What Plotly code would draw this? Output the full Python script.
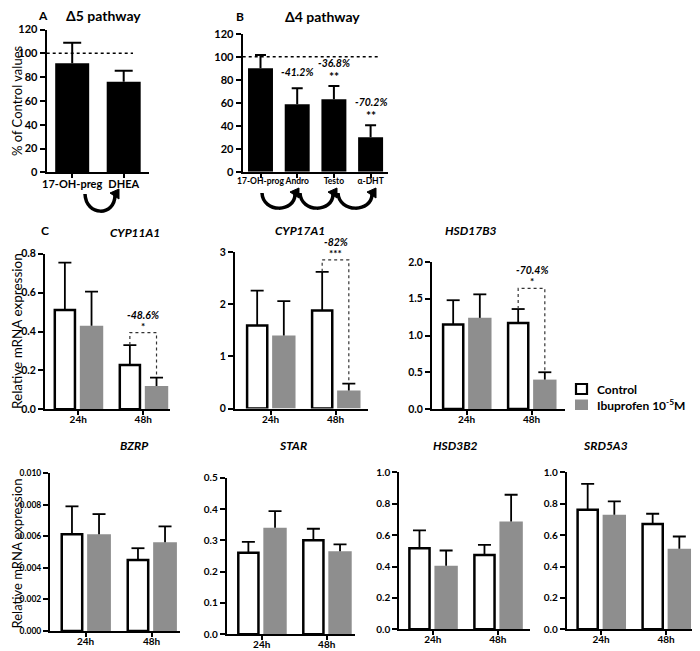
import plotly.graph_objects as go

FONT = "Lato"
# the page has an 8px body margin; the figure is sized so it fits the 700x651 window
OX, OY = 8, 8
W, H = 700 - OX, 651 - OY

# ---------------- data ----------------
a_cats = ["17-OH-preg", "DHEA"]
a_vals = [91.6, 76.1]
a_sem = [17.3, 9.3]

b_cats = ["17-OH-prog", "Andro", "Testo", "α-DHT"]
b_vals = [89.9, 58.6, 63.0, 29.9]
b_sem = [11.6, 13.9, 11.5, 10.4]
b_pct = ["", "-41.2%", "-36.8%", "-70.2%"]
b_sig = ["", "", "**", "**"]
ref_line = 100

timepoints = ["24h", "48h"]
series_names = ["Control", "Ibuprofen 10<sup>-5</sup>M"]

cyp11a1_ctrl = [0.51, 0.228]
cyp11a1_ctrl_sem = [0.244, 0.102]
cyp11a1_ibu = [0.43, 0.12]
cyp11a1_ibu_sem = [0.175, 0.043]
cyp11a1_sig = ("-48.6%", "*", 0.394)

cyp17a1_ctrl = [1.59, 1.88]
cyp17a1_ctrl_sem = [0.67, 0.74]
cyp17a1_ibu = [1.40, 0.346]
cyp17a1_ibu_sem = [0.66, 0.13]
cyp17a1_sig = ("-82%", "***", 2.85)

hsd17b3_ctrl = [1.15, 1.17]
hsd17b3_ctrl_sem = [0.33, 0.19]
hsd17b3_ibu = [1.24, 0.40]
hsd17b3_ibu_sem = [0.32, 0.10]
hsd17b3_sig = ("-70.4%", "*", 1.64)

bzrp_ctrl = [0.00613, 0.0045]
bzrp_ctrl_sem = [0.00176, 0.00074]
bzrp_ibu = [0.00613, 0.00562]
bzrp_ibu_sem = [0.00127, 0.001]

star_ctrl = [0.26, 0.30]
star_ctrl_sem = [0.035, 0.037]
star_ibu = [0.34, 0.265]
star_ibu_sem = [0.053, 0.022]

hsd3b2_ctrl = [0.517, 0.474]
hsd3b2_ctrl_sem = [0.113, 0.064]
hsd3b2_ibu = [0.404, 0.687]
hsd3b2_ibu_sem = [0.098, 0.17]

srd5a3_ctrl = [0.762, 0.67]
srd5a3_ctrl_sem = [0.164, 0.066]
srd5a3_ibu = [0.73, 0.513]
srd5a3_ibu_sem = [0.085, 0.078]

GREY = "#8e8e8e"


def px(x):
    return (x - OX) / W


def py(y):
    return 1 - (y - OY) / H


fig = go.Figure()
layout = {}
annotations = []
shapes = []


def refs(n):
    s = "" if n == 1 else str(n)
    return "x" + s, "y" + s, "xaxis" + s, "yaxis" + s


def setup_axes(n, axis_px, end_px, g1_px, unit, ytop, ybot, yr, dtick, fmt,
               tickvals, ticktext, xtick_size, ytick_size):
    xr_, yr_, xk, yk = refs(n)
    xrange = [1 + (axis_px - g1_px) / unit, 1 + (end_px - g1_px) / unit]
    layout[xk] = dict(domain=[px(axis_px), px(end_px)], range=xrange, anchor=yr_,
                      showline=True, linecolor="black", linewidth=2, showgrid=False,
                      zeroline=False, ticks="outside", ticklen=4, tickwidth=1.5,
                      tickcolor="black", tickvals=tickvals, ticktext=ticktext, tickangle=0,
                      ticklabelstandoff=-4,
                      tickfont=dict(family=FONT, size=xtick_size, color="black", weight="bold"),
                      fixedrange=True, automargin=False)
    layout[yk] = dict(domain=[py(ybot), py(ytop)], range=yr, anchor=xr_,
                      showline=True, linecolor="black", linewidth=2, showgrid=False,
                      zeroline=False, ticks="outside", ticklen=5, tickwidth=1.5,
                      tickcolor="black", dtick=dtick, tick0=0, tickformat=fmt,
                      tickfont=dict(family=FONT, size=ytick_size, color="black", weight="bold"),
                      fixedrange=True, automargin=False)
    return xr_, yr_, xrange, unit


def err_lines(xs, vals, sems, hw):
    X, Y = [], []
    for x, v, e in zip(xs, vals, sems):
        X += [x, x, None, x - hw, x + hw, None]
        Y += [v, v + e, None, v + e, v + e, None]
    return X, Y


# ---------------- Panel A ----------------
xa, ya, xrA, uA = setup_axes(1, 46.7, 149, 72.2, 51.5, 29.5, 172.3, [0, 120], 20, "d",
                             [1, 2], a_cats, 11, 11)
xs = [1 + i for i in range(len(a_cats))]
fig.add_trace(go.Bar(x=xs, y=a_vals, width=0.66, marker=dict(color="black", line=dict(width=0)),
                     xaxis=xa, yaxis=ya, showlegend=False, hoverinfo="skip"))
ex, ey = err_lines(xs, a_vals, a_sem, 9 / uA)
fig.add_trace(go.Scatter(x=ex, y=ey, mode="lines", line=dict(color="black", width=2),
                         xaxis=xa, yaxis=ya, showlegend=False, hoverinfo="skip"))
shapes.append(dict(type="line", xref=xa, yref=ya, x0=xrA[0], x1=1 + (133 - 72.2) / uA,
                   y0=ref_line, y1=ref_line, line=dict(color="black", width=1.5, dash="dot")))

# ---------------- Panel B ----------------
xb, yb, xrB, uB = setup_axes(2, 242.7, 388, 260.5, 36.7, 33.7, 171.7, [0, 120], 20, "d",
                             [1, 2, 3, 4], b_cats, 8.5, 11)
xs = [1 + i for i in range(len(b_cats))]
fig.add_trace(go.Bar(x=xs, y=b_vals, width=0.68, marker=dict(color="black", line=dict(width=0)),
                     xaxis=xb, yaxis=yb, showlegend=False, hoverinfo="skip"))
ex, ey = err_lines(xs, b_vals, b_sem, 5.5 / uB)
fig.add_trace(go.Scatter(x=ex, y=ey, mode="lines", line=dict(color="black", width=2),
                         xaxis=xb, yaxis=yb, showlegend=False, hoverinfo="skip"))
shapes.append(dict(type="line", xref=xb, yref=yb, x0=xrB[0], x1=1 + (380 - 260.5) / uB,
                   y0=ref_line, y1=ref_line, line=dict(color="black", width=1.5, dash="dot")))
for x, v, e, p, s in zip(xs, b_vals, b_sem, b_pct, b_sig):
    top = v + e
    if s:
        annotations.append(dict(x=x, y=top, xref=xb, yref=yb, text="<b>%s</b>" % s, showarrow=False,
                                yshift=10, font=dict(family=FONT, size=12, color="black")))
        annotations.append(dict(x=x, y=top, xref=xb, yref=yb, text="<b><i>%s</i></b>" % p,
                                showarrow=False, yshift=23,
                                font=dict(family=FONT, size=10.5, color="black")))
    elif p:
        annotations.append(dict(x=x, y=top, xref=xb, yref=yb, text="<b><i>%s</i></b>" % p,
                                showarrow=False, yshift=16,
                                font=dict(family=FONT, size=10.5, color="black")))

# ---------------- Gene panels ----------------
genes = [
    ("CYP11A1", cyp11a1_ctrl, cyp11a1_ctrl_sem, cyp11a1_ibu, cyp11a1_ibu_sem, cyp11a1_sig,
     (45, 170, 78.2, 65, 253.7, 409.3, [0, 0.8], 0.2, ".1f", 107.5, 232, 10.5)),
    ("CYP17A1", cyp17a1_ctrl, cyp17a1_ctrl_sem, cyp17a1_ibu, cyp17a1_ibu_sem, cyp17a1_sig,
     (235, 368, 270.5, 65, 252, 408.5, [0, 3], 1, "d", 300, 231, 10.5)),
    ("HSD17B3", hsd17b3_ctrl, hsd17b3_ctrl_sem, hsd17b3_ibu, hsd17b3_ibu_sem, hsd17b3_sig,
     (432, 565, 466.5, 65, 262, 409, [0, 2], 0.5, ".1f", 499, 231, 10.5)),
    ("BZRP", bzrp_ctrl, bzrp_ctrl_sem, bzrp_ibu, bzrp_ibu_sem, None,
     (50, 180, 85.5, 66, 473, 631, [0, 0.010], 0.002, ".3f", 118, 455, 8.5)),
    ("STAR", star_ctrl, star_ctrl_sem, star_ibu, star_ibu_sem, None,
     (226.7, 355, 261.7, 65, 477.7, 634.3, [0, 0.5], 0.1, ".1f", 293, 455, 10)),
    ("HSD3B2", hsd3b2_ctrl, hsd3b2_ctrl_sem, hsd3b2_ibu, hsd3b2_ibu_sem, None,
     (399.3, 530, 432.8, 65, 472.3, 629.3, [0, 1.0], 0.2, ".1f", 455, 455, 10)),
    ("SRD5A3", srd5a3_ctrl, srd5a3_ctrl_sem, srd5a3_ibu, srd5a3_ibu_sem, None,
     (566.7, 698, 601, 65, 472.3, 629.3, [0, 1.0], 0.2, ".1f", 630, 455, 10)),
]

OFF = 0.205
for i, (name, c, cs, b, bs, sig, geo) in enumerate(genes):
    n = 3 + i
    axis_px, end_px, g1, u, ytop, ybot, yr, dt, fmt, tx, ty, yts = geo
    xg, yg, xr, uu = setup_axes(n, axis_px, end_px, g1, u, ytop, ybot, yr, dt, fmt,
                                [1, 2], timepoints, 10, yts)
    xc = [1 + k - OFF for k in range(len(timepoints))]
    xi = [1 + k + OFF for k in range(len(timepoints))]
    fig.add_trace(go.Bar(x=xc, y=c, width=0.31, name=series_names[0],
                         marker=dict(color="white", line=dict(color="black", width=2.5)),
                         xaxis=xg, yaxis=yg, showlegend=False, hoverinfo="skip"))
    fig.add_trace(go.Bar(x=xi, y=b, width=0.36, name=series_names[1],
                         marker=dict(color=GREY, line=dict(width=0)),
                         xaxis=xg, yaxis=yg, showlegend=False, hoverinfo="skip"))
    ex1, ey1 = err_lines(xc, c, cs, 6.5 / uu)
    ex2, ey2 = err_lines(xi, b, bs, 6.5 / uu)
    fig.add_trace(go.Scatter(x=ex1 + ex2, y=ey1 + ey2, mode="lines",
                             line=dict(color="black", width=1.8),
                             xaxis=xg, yaxis=yg, showlegend=False, hoverinfo="skip"))
    annotations.append(dict(x=px(tx), y=py(ty), xref="paper", yref="paper",
                            text="<b><i>%s</i></b>" % name, showarrow=False,
                            font=dict(family=FONT, size=12, color="black")))
    if sig:
        pct, star, bracket = sig
        x1, x2 = xc[1], xi[1]
        t1, t2 = c[1] + cs[1], b[1] + bs[1]
        fig.add_trace(go.Scatter(x=[x1, x1, x2, x2], y=[t1, bracket, bracket, t2], mode="lines",
                                 line=dict(color="#333333", width=1.2, dash="dot"),
                                 xaxis=xg, yaxis=yg, showlegend=False, hoverinfo="skip"))
        xm = (x1 + x2) / 2
        annotations.append(dict(x=xm, y=bracket, xref=xg, yref=yg, text="<b>%s</b>" % star,
                                showarrow=False, yshift=7,
                                font=dict(family=FONT, size=10, color="black")))
        annotations.append(dict(x=xm, y=bracket, xref=xg, yref=yg, text="<b><i>%s</i></b>" % pct,
                                showarrow=False, yshift=18,
                                font=dict(family=FONT, size=10.5, color="black")))


# ---------------- panel labels ----------------
def label(x, y, text, size, xanchor="center", angle=0, bold=True):
    t = "<b>%s</b>" % text if bold else text
    annotations.append(dict(x=px(x), y=py(y), xref="paper", yref="paper", text=t,
                            showarrow=False, xanchor=xanchor, yanchor="middle", textangle=angle,
                            font=dict(family=FONT, size=size, color="black")))

label(43, 16, "A", 12)
label(64, 16, "Δ5 pathway", 14, xanchor="left")
label(240, 17, "B", 12)
label(283, 17, "Δ4 pathway", 14, xanchor="left")
label(45, 231, "C", 12)
label(17, 101, "% of Control values", 13, angle=-90, bold=False)
label(17, 331, "Relative mRNA expression", 13.5, angle=-90, bold=False)
label(16.5, 554, "Relative mRNA expression", 13, angle=-90, bold=False)

# ---------------- manual legend ----------------
shapes.append(dict(type="rect", xref="paper", yref="paper", x0=px(576), x1=px(587),
                   y0=py(394), y1=py(384), fillcolor="white", line=dict(color="black", width=2.2)))
shapes.append(dict(type="rect", xref="paper", yref="paper", x0=px(575), x1=px(588),
                   y0=py(410), y1=py(399.5), fillcolor=GREY, line=dict(width=0)))
label(595, 389, series_names[0], 12, xanchor="left")
label(595, 405, series_names[1], 12, xanchor="left")


# ---------------- curved arrows ----------------
def arc(x0, x1, y0, depth):
    k = depth / 0.75
    path = "M %f,%f C %f,%f %f,%f %f,%f" % (px(x0), py(y0), px(x0 + 1), py(y0 + k),
                                             px(x1 - 1), py(y0 + k), px(x1 - 1), py(y0 + 1))
    shapes.append(dict(type="path", xref="paper", yref="paper", path=path,
                       line=dict(color="black", width=3.5)))
    head = "M %f,%f L %f,%f L %f,%f Z" % (px(x1 + 3), py(y0 - 5), px(x1 - 6), py(y0 - 1),
                                           px(x1 + 3), py(y0 + 5))
    shapes.append(dict(type="path", xref="paper", yref="paper", path=head,
                       fillcolor="black", line=dict(color="black", width=1)))

arc(85, 116, 194, 17)
arc(262, 296, 193, 15)
arc(300, 334, 193, 15)
arc(338, 373, 193, 15)

fig.update_layout(
    width=W, height=H, margin=dict(l=0, r=0, t=0, b=0, autoexpand=False),
    paper_bgcolor="white", plot_bgcolor="white",
    barmode="overlay", annotations=annotations, shapes=shapes,
    showlegend=False,
    **layout,
)

fig.write_html("out.html")
